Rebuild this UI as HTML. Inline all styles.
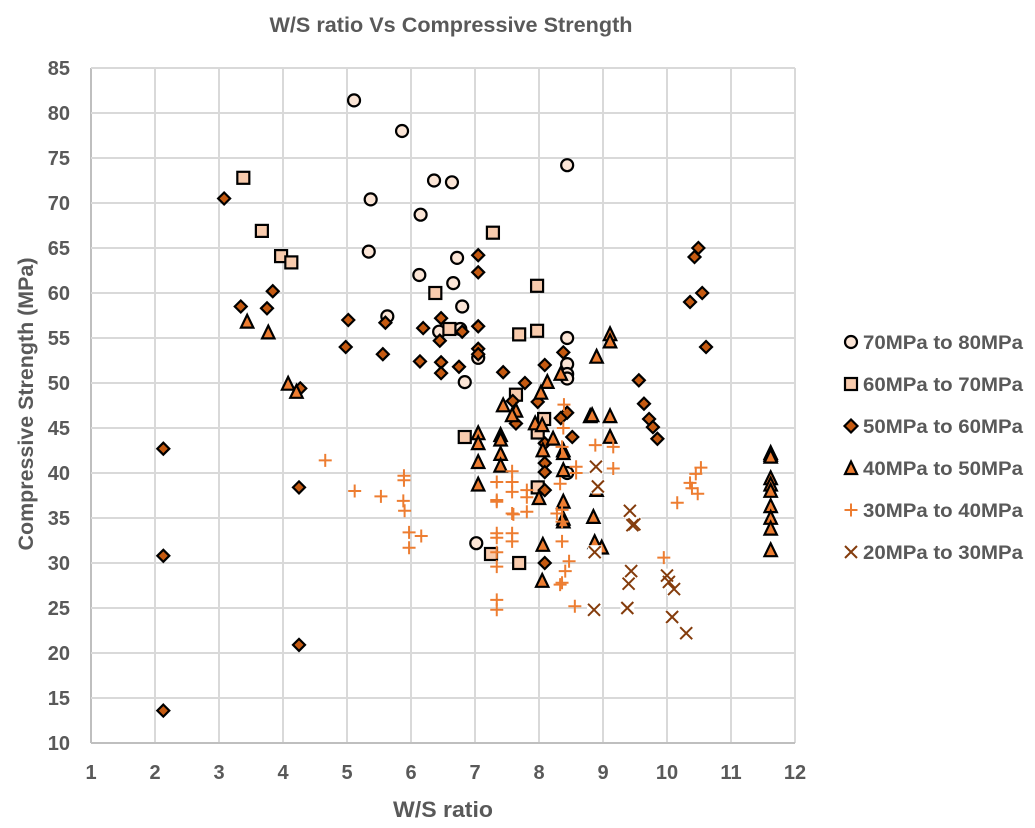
<!DOCTYPE html>
<html lang="en">
<head>
<meta charset="utf-8">
<title>W/S ratio Vs Compressive Strength</title>
<style>
html,body{margin:0;padding:0;background:#fff;width:1035px;height:828px;overflow:hidden}
svg{display:block}
text{font-family:"Liberation Sans",sans-serif;font-weight:bold;fill:#595959}
</style>
</head>
<body>
<svg id="chart" width="1035" height="828" viewBox="0 0 1035 828" xmlns="http://www.w3.org/2000/svg">
<rect width="1035" height="828" fill="#fff"/>
<text x="451" y="32" font-size="21" text-anchor="middle" textLength="363" lengthAdjust="spacingAndGlyphs">W/S ratio Vs Compressive Strength</text>
<text x="443" y="817" font-size="22" text-anchor="middle" textLength="100" lengthAdjust="spacingAndGlyphs">W/S ratio</text>
<text transform="translate(33 404) rotate(-90)" font-size="21" text-anchor="middle" textLength="293" lengthAdjust="spacingAndGlyphs">Compressive Strength (MPa)</text>
<g id="grid"></g>
<g id="ticks"></g>
<g id="marks"></g>
<g id="legend">
<g><circle cx="851" cy="342" r="6" fill="#FBE5D6" stroke="#000" stroke-width="2.2"/><text x="863" y="349" font-size="19.5" textLength="160" lengthAdjust="spacingAndGlyphs">70MPa to 80MPa</text></g>
<g><rect x="845" y="378" width="12" height="12" fill="#F8CBAD" stroke="#000" stroke-width="2.2"/><text x="863" y="391" font-size="19.5" textLength="160" lengthAdjust="spacingAndGlyphs">60MPa to 70MPa</text></g>
<g><path d="M851 419.500L857.500 426L851 432.500L844.500 426Z" fill="#C55A11" stroke="#000" stroke-width="2.2"/><text x="863" y="433" font-size="19.5" textLength="160" lengthAdjust="spacingAndGlyphs">50MPa to 60MPa</text></g>
<g><path d="M851 461.500L857 474L845 474Z" fill="#ED7D31" stroke="#000" stroke-width="2.2"/><text x="863" y="475" font-size="19.5" textLength="160" lengthAdjust="spacingAndGlyphs">40MPa to 50MPa</text></g>
<g><path d="M844.500 510H857.500M851 503.500V516.500" fill="none" stroke="#ED7D31" stroke-width="2"/><text x="863" y="517" font-size="19.5" textLength="160" lengthAdjust="spacingAndGlyphs">30MPa to 40MPa</text></g>
<g><path d="M845 546L857 558M857 546L845 558" fill="none" stroke="#843C0C" stroke-width="2"/><text x="863" y="559" font-size="19.5" textLength="160" lengthAdjust="spacingAndGlyphs">20MPa to 30MPa</text></g>
</g>
</svg>
<script>
const xTicks = [1,2,3,4,5,6,7,8,9,10,11,12];
const yTicks = [10,15,20,25,30,35,40,45,50,55,60,65,70,75,80,85];

const circleX = [5.11,5.86,6.36,6.64,8.44,5.37,6.15,5.34,6.13,6.72,6.66,6.8,5.63,6.44,6.77,8.44,8.44,8.44,8.44,7.05,6.84,7.02,8.44];
const circleY = [81.4,78,72.5,72.3,74.2,70.4,68.7,64.6,62,63.9,61.1,58.5,57.4,55.7,56,55,52.1,51,50.5,52.8,50.1,32.2,40];

const squareX = [3.38,3.67,3.97,4.13,7.28,6.38,7.97,6.6,7.69,7.97,7.64,8.08,7.98,6.84,7.98,7.25,7.69];
const squareY = [72.8,66.9,64.1,63.4,66.7,60,60.8,56,55.4,55.8,48.7,46,44.5,44,38.4,31,30];

const diamondX = [3.08,3.34,3.75,3.84,5.02,4.98,5.6,5.56,6.19,6.14,6.47,6.45,6.47,6.47,6.8,6.75,7.05,7.05,7.05,7.05,7.05,7.44,7.78,8.09,8.38,7.59,7.98,8.44,8.34,7.64,8.52,8.09,8.09,8.09,8.09,8.09,9.56,9.64,9.72,9.78,9.85,10.36,10.43,10.49,10.55,10.61,2.13,2.13,2.13,4.25,4.25,4.27];
const diamondY = [70.5,58.5,58.3,60.2,57,54,56.7,53.2,56.1,52.4,57.2,54.7,52.3,51.1,55.7,51.8,64.2,62.3,56.3,53.8,53.2,51.2,50,52,53.4,48,47.9,46.7,46.1,45.5,44,43.3,41.1,40.1,38.1,30,50.3,47.7,46,45.1,43.8,59,64,65,60,54,42.7,30.8,13.6,38.4,20.9,49.4];

const triangleX = [3.44,3.77,4.08,4.21,9.11,9.11,8.9,8.34,8.13,8.03,7.44,7.64,7.58,7.94,8.05,7.05,7.05,7.4,7.4,7.4,7.4,7.05,7.05,8.22,8.06,8.38,8.38,8.38,8.8,8.83,9.11,9.11,8,8.38,8.38,8.38,8.85,8.06,8.05,8.87,8.98,8.9,11.62,11.62,11.62,11.62,11.62,11.62,11.62,11.62,11.62,11.62];
const triangleY = [56.8,55.6,49.9,49,55.4,54.6,52.9,51,50.1,48.9,47.5,46.9,46.4,45.5,45.3,44.4,43.3,44.2,43.7,42.1,40.8,41.2,38.7,43.8,42.5,42.5,42.2,40.3,46.3,46.4,46.3,44,37.2,36.8,34.9,34.6,35.1,32,28,32.3,31.7,38.1,42.2,42,41.8,39.4,38.7,38,36.3,35,33.8,31.4];

const plusX = [4.66,5.12,5.53,5.88,5.89,5.89,5.9,5.97,5.97,6.16,8.39,8.38,8.36,8.88,9.16,8.58,8.58,9.16,7.58,7.34,7.58,7.58,7.81,7.81,7.34,8.33,7.34,7.58,7.6,7.81,8.28,8.36,8.36,7.34,7.34,7.58,7.58,8.36,7.34,7.34,8.47,8.41,8.36,8.33,7.34,7.34,8.56,10.53,10.45,10.36,10.39,10.48,10.16,9.95];
const plusY = [41.4,38,37.4,36.9,39.7,39.2,35.8,33.4,31.7,33,47.6,45,42.9,43.1,42.9,40.7,40,40.5,40.2,39,39,37.9,38.1,37.3,37,38.8,36.8,35.5,35.4,35.7,35.5,35.9,34.6,33.3,32.8,33.3,32.4,32.4,31.2,29.6,30.2,29.1,27.8,27.6,25.9,24.8,25.2,40.6,39.9,38.9,38.3,37.7,36.7,30.6];

const crossX = [9.42,9.46,9.49,9.44,9.4,9.38,10,10.03,10.11,10.08,10.3,8.89,8.92,8.87,8.86];
const crossY = [35.8,34.2,34.3,29.1,27.7,25,28.6,27.9,27.1,24,22.2,40.7,38.5,31.2,24.8];

const SVGNS = 'http://www.w3.org/2000/svg';
const plotLeft = 91, plotRight = 795, plotTop = 68, plotBottom = 743;
const xMin = 1, xMax = 12, yMin = 10, yMax = 85;
function sx(v){ return plotLeft + (v - xMin) / (xMax - xMin) * (plotRight - plotLeft); }
function sy(v){ return plotBottom - (v - yMin) / (yMax - yMin) * (plotBottom - plotTop); }
function make(tag, attrs, parent){
  const el = document.createElementNS(SVGNS, tag);
  for (const k in attrs) el.setAttribute(k, attrs[k]);
  parent.appendChild(el);
  return el;
}
const gridG = document.getElementById('grid');
const ticksG = document.getElementById('ticks');
const marksG = document.getElementById('marks');

xTicks.forEach(function(t){
  const line = make('line', {x1:sx(t), x2:sx(t), y1:plotTop, y2:plotBottom, stroke: t === xMin ? '#BFBFBF' : '#D9D9D9', 'stroke-width':2}, gridG);
  
  
  const label = make('text', {x:sx(t), y:779, 'font-size':20, 'text-anchor':'middle'}, ticksG);
  label.textContent = t;
  
  
});
yTicks.forEach(function(t){
  const line = make('line', {x1:plotLeft, x2:plotRight, y1:sy(t), y2:sy(t), stroke: t === yMin ? '#BFBFBF' : '#D9D9D9', 'stroke-width':2}, gridG);
  
  
  const label = make('text', {x:70, y:sy(t) + 7, 'font-size':20, 'text-anchor':'end'}, ticksG);
  label.textContent = t;
  
  
});

function drawCircle(g, x, y){
  return make('circle', {cx:x, cy:y, r:6, fill:'#FBE5D6', stroke:'#000', 'stroke-width':2.2}, g);
}
function drawSquare(g, x, y){
  return make('rect', {x:x-6, y:y-6, width:12, height:12, fill:'#F8CBAD', stroke:'#000', 'stroke-width':2.2}, g);
}
function drawDiamond(g, x, y){
  return make('path', {d:'M'+x+' '+(y-6)+'L'+(x+6)+' '+y+'L'+x+' '+(y+6)+'L'+(x-6)+' '+y+'Z', fill:'#C55A11', stroke:'#000', 'stroke-width':2.2}, g);
}
function drawTriangle(g, x, y){
  return make('path', {d:'M'+x+' '+(y-7)+'L'+(x+6.2)+' '+(y+5.8)+'L'+(x-6.2)+' '+(y+5.8)+'Z', fill:'#ED7D31', stroke:'#000', 'stroke-width':2.2}, g);
}
function drawPlus(g, x, y){
  return make('path', {d:'M'+(x-6.5)+' '+y+'H'+(x+6.5)+'M'+x+' '+(y-6.5)+'V'+(y+6.5), fill:'none', stroke:'#ED7D31', 'stroke-width':2}, g);
}
function drawCrossBox(g, x, y){
  return make('rect', {x:x-7, y:y-7, width:14, height:14, fill:'#fff'}, g);
}
function drawCross(g, x, y){
  return make('path', {d:'M'+(x-6)+' '+(y-6)+'L'+(x+6)+' '+(y+6)+'M'+(x+6)+' '+(y-6)+'L'+(x-6)+' '+(y+6), fill:'none', stroke:'#843C0C', 'stroke-width':2}, g);
}

const g70 = make('g', {}, marksG);


circleX.forEach(function(v, i){
  const m = drawCircle(g70, sx(v), sy(circleY[i]));
  
  
});
const g60 = make('g', {}, marksG);


squareX.forEach(function(v, i){
  const m = drawSquare(g60, sx(v), sy(squareY[i]));
  
  
});
const g50 = make('g', {}, marksG);


diamondX.forEach(function(v, i){
  const m = drawDiamond(g50, sx(v), sy(diamondY[i]));
  
  
});
const g40 = make('g', {}, marksG);


triangleX.forEach(function(v, i){
  const m = drawTriangle(g40, sx(v), sy(triangleY[i]));
  
  
});
const g30 = make('g', {}, marksG);


plusX.forEach(function(v, i){
  const m = drawPlus(g30, sx(v), sy(plusY[i]));
  
  
});
const g20 = make('g', {}, marksG);


crossX.forEach(function(v, i){
  const b = drawCrossBox(g20, sx(v), sy(crossY[i]));
  
  
});
crossX.forEach(function(v, i){
  const m = drawCross(g20, sx(v), sy(crossY[i]));
  
  
});
</script>
</body>
</html>
